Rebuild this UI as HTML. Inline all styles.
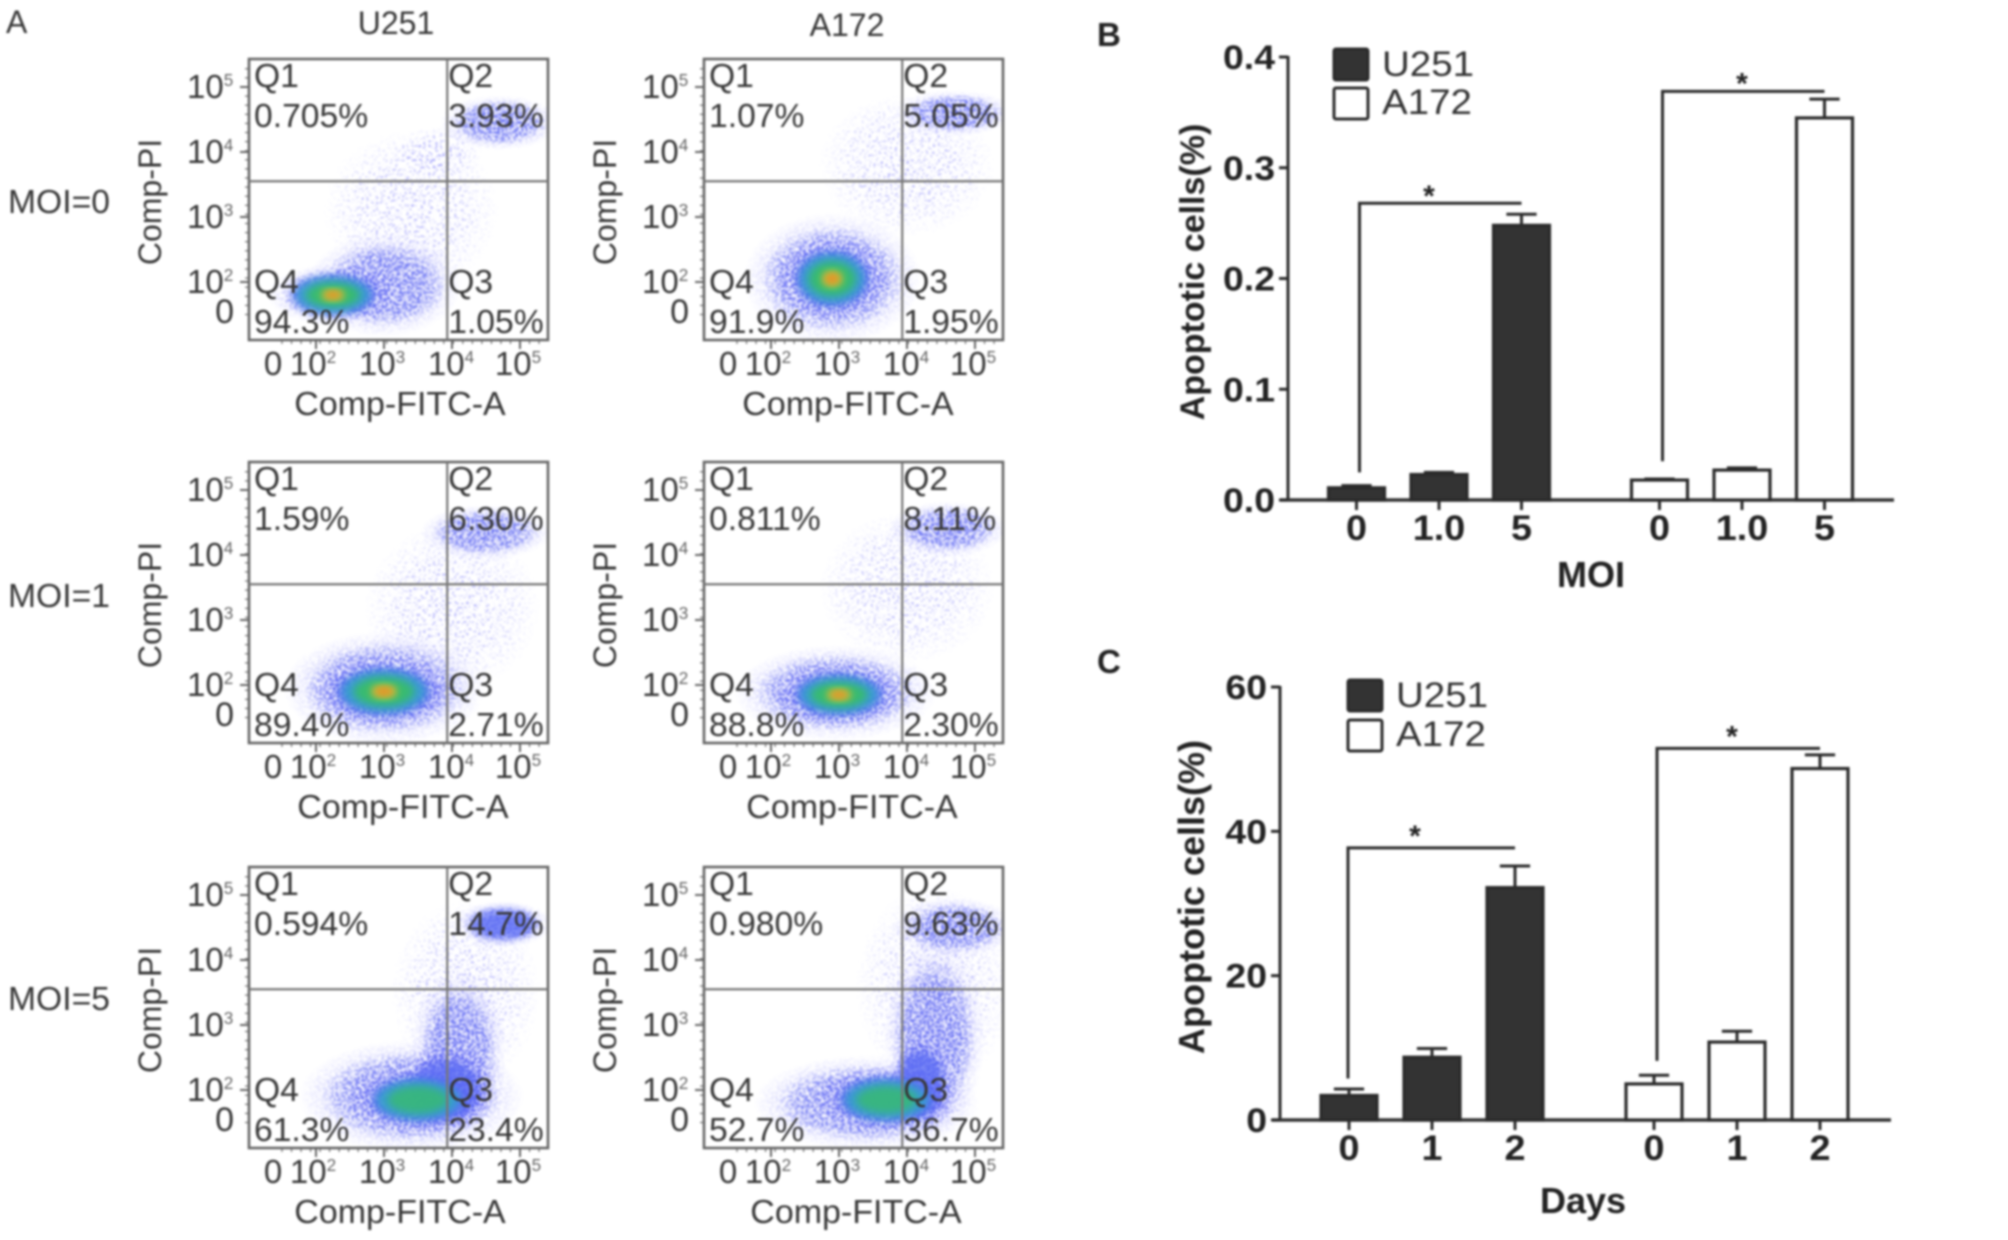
<!DOCTYPE html>
<html lang="en">
<head>
<meta charset="utf-8">
<title>Apoptosis flow cytometry and bar charts</title>
<style>
html,body{margin:0;padding:0;background:#fff;}
svg{display:block;filter:blur(1px);font-family:"Liberation Sans",sans-serif;}
</style>
</head>
<body>
<svg id="figure" xmlns="http://www.w3.org/2000/svg" width="2008" height="1240" viewBox="0 0 2008 1240">
<defs>
<radialGradient id="cloudFade">
<stop offset="0" stop-color="#6a6af8" stop-opacity="1"/>
<stop offset="0.55" stop-color="#6a6af8" stop-opacity="0.75"/>
<stop offset="1" stop-color="#6a6af8" stop-opacity="0"/>
</radialGradient>
<radialGradient id="coreFade">
<stop offset="0" stop-color="#4a58ee" stop-opacity="1"/>
<stop offset="0.7" stop-color="#4a58ee" stop-opacity="0.9"/>
<stop offset="1" stop-color="#4a58ee" stop-opacity="0"/>
</radialGradient>
<filter id="speckle" x="-10%" y="-10%" width="120%" height="120%">
<feTurbulence type="fractalNoise" baseFrequency="0.5" numOctaves="2" seed="7" result="noise"/>
<feColorMatrix in="noise" type="matrix" values="0 0 0 0 0  0 0 0 0 0  0 0 0 0 0  0 0 0 12 -6.1" result="mask"/>
<feComposite in="SourceGraphic" in2="mask" operator="in" result="dots"/>
<feGaussianBlur in="dots" stdDeviation="0.7"/>
</filter>
<filter id="speckleSparse" x="-10%" y="-10%" width="120%" height="120%">
<feTurbulence type="fractalNoise" baseFrequency="0.42" numOctaves="2" seed="19" result="noise"/>
<feColorMatrix in="noise" type="matrix" values="0 0 0 0 0  0 0 0 0 0  0 0 0 0 0  0 0 0 16 -9.6" result="mask"/>
<feComposite in="SourceGraphic" in2="mask" operator="in" result="dots"/>
<feGaussianBlur in="dots" stdDeviation="0.6"/>
</filter>
<filter id="soften" x="-30%" y="-30%" width="160%" height="160%">
<feGaussianBlur stdDeviation="4"/>
</filter>
</defs>
<rect width="2008" height="1240" fill="#fff"/>
</svg>
<script>
/* ---------- Panel A: flow cytometry data ---------- */
var flowCells = ['U251', 'A172', 'U251', 'A172', 'U251', 'A172'];
var flowMoi = [0, 0, 1, 1, 5, 5];
var q1Pct = ['0.705%', '1.07%', '1.59%', '0.811%', '0.594%', '0.980%'];
var q2Pct = ['3.93%', '5.05%', '6.30%', '8.11%', '14.7%', '9.63%'];
var q3Pct = ['1.05%', '1.95%', '2.71%', '2.30%', '23.4%', '36.7%'];
var q4Pct = ['94.3%', '91.9%', '89.4%', '88.8%', '61.3%', '52.7%'];
var flowTickDecades = [2, 3, 4, 5];
var flowGateDecades = [3.93, 3.55];
/* populations: log10 FITC, log10 PI, spread FITC, spread PI, density level 1-6 */
var blobsU251Moi0 = [[3.4,3.1,1.0,0.95,1],[3.8,4.0,0.5,0.3,1],[3.0,1.95,0.65,0.45,2],[4.7,4.45,0.5,0.24,2],[2.25,1.8,0.55,0.27,6]];
var blobsA172Moi0 = [[4.0,3.8,1.0,0.85,1],[2.9,2.05,0.75,0.58,2],[4.7,4.6,0.5,0.2,2],[2.9,2.05,0.48,0.38,6]];
var blobsU251Moi1 = [[4.0,3.2,1.0,1.0,1],[3.0,1.95,0.85,0.5,2],[4.5,4.35,0.55,0.24,2],[3.0,1.9,0.62,0.32,6]];
var blobsA172Moi1 = [[4.0,3.5,1.0,0.9,1],[2.95,1.88,0.85,0.42,2],[4.6,4.4,0.5,0.24,2],[3.0,1.85,0.58,0.28,6]];
var blobsU251Moi5 = [[4.2,3.5,0.85,1.1,1],[3.4,1.9,0.95,0.5,2],[4.1,2.6,0.4,0.7,2],[4.75,4.55,0.42,0.2,3],[3.9,2.0,0.45,0.4,3],[3.5,1.85,0.62,0.3,5]];
var blobsA172Moi5 = [[4.4,3.6,0.9,1.2,1],[3.4,1.8,0.95,0.42,2],[4.4,2.8,0.42,0.85,2],[4.7,4.5,0.52,0.26,2],[4.2,2.1,0.3,0.45,3],[3.7,1.85,0.62,0.3,5]];
var flowBlobs = [blobsU251Moi0, blobsA172Moi0, blobsU251Moi1, blobsA172Moi1, blobsU251Moi5, blobsA172Moi5];

/* ---------- Panel B data ---------- */
var bCategories = ['0', '1.0', '5'];
var bU251Values = [0.011, 0.023, 0.248];
var bU251ErrorTops = [0.013, 0.025, 0.258];
var bA172Values = [0.018, 0.027, 0.345];
var bA172ErrorTops = [0.019, 0.029, 0.362];
var bTicks = [0, 0.1, 0.2, 0.3, 0.4];
var bTickLabels = ['0.0', '0.1', '0.2', '0.3', '0.4'];
var bBracketTops = [0.268, 0.369];
var bBracketFeet = [0.025, 0.035];

/* ---------- Panel C data ---------- */
var cCategories = ['0', '1', '2'];
var cU251Values = [3.4, 8.7, 32.2];
var cU251ErrorTops = [4.3, 9.9, 35.2];
var cA172Values = [5.0, 10.8, 48.7];
var cA172ErrorTops = [6.2, 12.3, 50.6];
var cTicks = [0, 20, 40, 60];
var cTickLabels = ['0', '20', '40', '60'];
var cBracketTops = [37.7, 51.5];
var cBracketFeet = [5.75, 8.2];

var svg = document.getElementById('figure');
var NS = 'http://www.w3.org/2000/svg';

function make(tag, parent, attrs, name) {
  var el = document.createElementNS(NS, tag);
  for (var k in attrs) { el.setAttribute(k, attrs[k]); }
  
  
  parent.appendChild(el);
  return el;
}
function label(parent, name, str, x, y, size, opt) {
  opt = opt || {};
  var sx = opt.sx || 1;
  var tr = 'translate(' + x + ' ' + y + ')' + (opt.rot ? ' rotate(' + opt.rot + ')' : '') + ' scale(' + sx + ' 1)';
  var el = make('text', parent, {
    transform: tr,
    'font-size': size,
    'font-weight': opt.bold ? 'bold' : 'normal',
    'text-anchor': opt.anchor || 'start',
    fill: opt.fill || '#383838'
  }, name);
  el.textContent = str;
  return el;
}
function power(parent, name, exp, x, y, size, anchor) {
  var el = label(parent, name, '10', x, y, size, {sx: 1.0, anchor: anchor});
  var sup = document.createElementNS(NS, 'tspan');
  sup.setAttribute('font-size', size * 0.52);
  sup.setAttribute('dy', -size * 0.36);
  sup.setAttribute('fill', '#666');
  sup.textContent = String(exp);
  el.appendChild(sup);
  return el;
}

/* ---------- Density rendering ---------- */
var ringColors = ['#5f70f4', '#2fa6c8', '#38c060', '#e8d030', '#e87a20'];
var ringScale = [1.4, 1.02, 0.74, 0.44, 0.22];
function drawBlob(parent, blob, fx, fy) {
  var cx = fx(blob[0]), cy = fy(blob[1]);
  var rx = Math.abs(fx(blob[0] + blob[2]) - cx), ry = Math.abs(fy(blob[1] + blob[3]) - cy);
  var level = blob[4];
  var k = level > 1 ? 1.75 : 1.3;
  var pale = make('ellipse', parent, {cx: cx, cy: cy, rx: rx * k, ry: ry * k, fill: 'url(#cloudFade)', filter: level > 1 ? 'url(#speckle)' : 'url(#speckleSparse)', opacity: level > 1 ? 0.8 : 0.6}, 'event-cloud');
  if (level < 2) { return pale; }
  make('ellipse', parent, {cx: cx, cy: cy, rx: rx * ringScale[0], ry: ry * ringScale[0], fill: 'url(#coreFade)', filter: 'url(#speckle)', opacity: 0.9}, 'density-grain');
  if (level >= 3) {
    make('ellipse', parent, {cx: cx, cy: cy, rx: rx * 1.1, ry: ry * 1.1, fill: ringColors[0], opacity: 0.8, filter: 'url(#soften)'}, 'density-contour-blue');
  }
  if (level >= 4) {
    make('ellipse', parent, {cx: cx, cy: cy, rx: rx * 1.0, ry: ry * 1.0, fill: ringColors[1], opacity: level === 4 ? 0.6 : 0.8, filter: 'url(#soften)'}, 'density-contour-cyan');
  }
  if (level >= 5) {
    make('ellipse', parent, {cx: cx, cy: cy, rx: rx * 0.72, ry: ry * 0.7, fill: ringColors[2], opacity: level === 5 ? 0.7 : 0.85, filter: 'url(#soften)'}, 'density-contour-green');
  }
  if (level >= 6) {
    make('ellipse', parent, {cx: cx, cy: cy, rx: rx * 0.3, ry: ry * 0.32, fill: ringColors[3], opacity: 0.9, filter: 'url(#soften)'}, 'density-contour-yellow');
    make('ellipse', parent, {cx: cx, cy: cy, rx: rx * 0.24, ry: ry * 0.22, fill: ringColors[4], opacity: 0.8, filter: 'url(#soften)'}, 'density-contour-orange');
  }
  return pale;
}

/* ---------- Panel A drawing ---------- */
var boxLefts = [249, 704];
var boxTops = [59, 462, 867];
var BOX_W = 299, BOX_H = 281;
var xLabelOffset = [0, -7, 3, -3, 0, 1];

flowCells.forEach(function (cell, p) {
  var col = p % 2, row = Math.floor(p / 2);
  var L = boxLefts[col], T = boxTops[row], R = L + BOX_W, B = T + BOX_H;
  var fx = function (d) { return L + 135 + (d - 3) * 68; };
  var fy = function (d) { return T + 158 - (d - 3) * 65; };
  var g = make('g', svg, {}, 'flow-plot-' + cell.toLowerCase() + '-moi-' + flowMoi[p]);

  var clip = make('clipPath', g, {id: 'clip' + p}, 'plot-clip');
  make('rect', clip, {x: L, y: T, width: BOX_W, height: BOX_H}, 'plot-clip-area');
  var dots = make('g', g, {'clip-path': 'url(#clip' + p + ')'}, 'density-scatter');
  flowBlobs[p].forEach(function (b) { drawBlob(dots, b, fx, fy); });

  /* minor ticks */
  for (var m = 1.5; m < 5.4; m += 0.14) {
    make('line', g, {x1: L - 4, x2: L, y1: fy(m), y2: fy(m), stroke: '#888', 'stroke-width': 1.5}, 'y-minor-tick');
    make('line', g, {x1: fx(m), x2: fx(m), y1: B, y2: B + 4, stroke: '#888', 'stroke-width': 1.5}, 'x-minor-tick');
  }
  var xLabelShift = {2: -3, 3: -2, 4: -1, 5: -2};
  flowTickDecades.forEach(function (d) {
    make('line', g, {x1: L - 9, x2: L, y1: fy(d), y2: fy(d), stroke: '#666', 'stroke-width': 2}, 'y-major-tick');
    make('line', g, {x1: fx(d), x2: fx(d), y1: B, y2: B + 9, stroke: '#666', 'stroke-width': 2}, 'x-major-tick');
    power(g, 'y-tick-label', d, L - 62, fy(d) + 11, 33);
    power(g, 'x-tick-label', d, fx(d) + xLabelShift[d], B + 35, 33, 'middle');
  });
  label(g, 'y-tick-label-zero', '0', L - 15, T + 264, 34, {anchor: 'end'});
  label(g, 'x-tick-label-zero', '0', L + 24, B + 35, 33, {anchor: 'middle'});

  make('rect', g, {x: L, y: T, width: BOX_W, height: BOX_H, fill: 'none', stroke: '#666', 'stroke-width': 2.6}, 'plot-frame');
  var gx = fx(flowGateDecades[0]), gy = fy(flowGateDecades[1]);
  make('line', g, {x1: gx, x2: gx, y1: T, y2: B, stroke: '#777', 'stroke-width': 2.2}, 'vertical-gate');
  make('line', g, {x1: L, x2: R, y1: gy, y2: gy, stroke: '#777', 'stroke-width': 2.2}, 'horizontal-gate');

  var qOpt = {sx: 1.02};
  label(g, 'q1-label', 'Q1', L + 5, T + 28, 33, qOpt);
  label(g, 'q1-percent', q1Pct[p], L + 5, T + 68, 33, qOpt);
  label(g, 'q2-label', 'Q2', gx + 1, T + 28, 33, qOpt);
  label(g, 'q2-percent', q2Pct[p], gx + 1, T + 68, 33, qOpt);
  label(g, 'q4-label', 'Q4', L + 5, B - 47, 33, qOpt);
  label(g, 'q4-percent', q4Pct[p], L + 5, B - 7, 33, qOpt);
  label(g, 'q3-label', 'Q3', gx + 1, B - 47, 33, qOpt);
  label(g, 'q3-percent', q3Pct[p], gx + 1, B - 7, 33, qOpt);

  label(g, 'x-axis-title', 'Comp-FITC-A', L + 151 + xLabelOffset[p], B + 75, 33, {anchor: 'middle', sx: 1.03});
  label(g, 'y-axis-title', 'Comp-PI', L - 88, T + 143, 32, {anchor: 'middle', rot: -90});
});

label(svg, 'panel-a-label', 'A', 6, 33, 32);
label(svg, 'column-title-u251', 'U251', 396, 34, 32, {anchor: 'middle', sx: 1.0});
label(svg, 'column-title-a172', 'A172', 847, 36, 32, {anchor: 'middle', sx: 1.0});
label(svg, 'row-title-moi-0', 'MOI=0', 8, 213, 33, {sx: 1.02});
label(svg, 'row-title-moi-1', 'MOI=1', 8, 607, 33, {sx: 1.02});
label(svg, 'row-title-moi-5', 'MOI=5', 8, 1010, 33, {sx: 1.02});

/* ---------- Bar charts ---------- */
function drawBarChart(cfg) {
  var g = make('g', svg, {}, cfg.name);
  var ink = '#2b2b2b';
  var y = function (v) { return cfg.y0 - v / cfg.yMax * (cfg.y0 - cfg.yTop); };
  var x = function (group, i) { return cfg.x0 + group * cfg.groupGap + i * cfg.step; };

  make('line', g, {x1: cfg.axisX, x2: cfg.axisX, y1: y(cfg.yMax) - 1, y2: cfg.y0, stroke: ink, 'stroke-width': 3}, 'y-axis-line');
  make('line', g, {x1: cfg.axisX - 8, x2: cfg.axisEnd, y1: cfg.y0, y2: cfg.y0, stroke: '#333', 'stroke-width': 3.4}, 'x-axis-line');

  cfg.ticks.forEach(function (t, i) {
    make('line', g, {x1: cfg.axisX - 9, x2: cfg.axisX, y1: y(t), y2: y(t), stroke: ink, 'stroke-width': 3}, 'y-tick');
    label(g, 'y-tick-label', cfg.tickLabels[i], cfg.axisX - 13, y(t) + 12, 34, {anchor: 'end', bold: true, fill: '#222', sx: 1.1});
  });

  [cfg.u251, cfg.a172].forEach(function (series, s) {
    series.values.forEach(function (v, i) {
      var cx = x(s, i), w = cfg.barWidth;
      make('line', g, {x1: cx, x2: cx, y1: y(series.tops[i]), y2: y(v), stroke: ink, 'stroke-width': 3}, 'error-bar-stem');
      make('line', g, {x1: cx - w * 0.27, x2: cx + w * 0.27, y1: y(series.tops[i]), y2: y(series.tops[i]), stroke: ink, 'stroke-width': 3}, 'error-bar-cap');
      make('rect', g, {
        x: cx - w / 2, y: y(v), width: w, height: cfg.y0 - y(v),
        fill: s === 0 ? '#333' : '#fff', stroke: ink, 'stroke-width': 3.2
      }, 'bar-' + series.name + '-' + cfg.categories[i]);
      make('line', g, {x1: cx, x2: cx, y1: cfg.y0, y2: cfg.y0 + 10, stroke: ink, 'stroke-width': 3}, 'x-tick');
      label(g, 'x-tick-label', cfg.categories[i], cx, cfg.y0 + 40, 35, {anchor: 'middle', bold: true, fill: '#222', sx: 1.08});
    });
  });

  cfg.bracketTops.forEach(function (v, s) {
    var x1 = x(s, 0) + cfg.bracketDx[s], x2 = x(s, 2);
    make('path', g, {d: 'M' + x1 + ' ' + y(cfg.bracketFeet[s]) + 'V' + y(v) + 'H' + x2, fill: 'none', stroke: ink, 'stroke-width': 3}, 'significance-bracket');
    label(g, 'significance-star', '*', x(s, 1) + cfg.starDx[s], y(v) + cfg.starDy[s], 30, {anchor: 'middle', bold: true, fill: '#222'});
  });

  label(g, 'x-axis-title', cfg.xTitle, cfg.xTitleX, cfg.xTitleY, 36, {anchor: 'middle', bold: true, fill: '#222'});
  label(g, 'y-axis-title', 'Apoptotic cells(%)', cfg.yTitleX, cfg.yTitleY, cfg.yTitleSize, {anchor: 'middle', bold: true, rot: -90, fill: '#222'});

  make('rect', g, {x: cfg.legendX, y: cfg.legendY[0], width: 34, height: 31, rx: 2, fill: '#333', stroke: ink, 'stroke-width': 3}, 'legend-swatch-u251');
  make('rect', g, {x: cfg.legendX, y: cfg.legendY[1], width: 34, height: 31, rx: 2, fill: '#fff', stroke: ink, 'stroke-width': 3}, 'legend-swatch-a172');
  label(g, 'legend-label-u251', 'U251', cfg.legendX + 48, cfg.legendY[0] + 27, 35, {sx: 1.1, fill: '#333'});
  label(g, 'legend-label-a172', 'A172', cfg.legendX + 48, cfg.legendY[1] + 26, 35, {sx: 1.1, fill: '#333'});
  label(g, 'panel-label', cfg.panel, cfg.panelX, cfg.panelY, 33, {bold: true, fill: '#222'});
}

drawBarChart({
  name: 'bar-chart-moi', panel: 'B', panelX: 1097, panelY: 46,
  y0: 500, yTop: 57, yMax: 0.4, axisX: 1288, axisEnd: 1894,
  x0: 1356.5, step: 82.5, groupGap: 303, barWidth: 56,
  categories: bCategories, ticks: bTicks, tickLabels: bTickLabels,
  u251: {name: 'u251', values: bU251Values, tops: bU251ErrorTops},
  a172: {name: 'a172', values: bA172Values, tops: bA172ErrorTops},
  bracketTops: bBracketTops, bracketFeet: bBracketFeet, bracketDx: [3, 3],
  starDx: [-10, 0], starDy: [3, 2],
  xTitle: 'MOI', xTitleX: 1591, xTitleY: 587,
  yTitleX: 1204, yTitleY: 272, yTitleSize: 34,
  legendX: 1334, legendY: [49, 88]
});
drawBarChart({
  name: 'bar-chart-days', panel: 'C', panelX: 1097, panelY: 673,
  y0: 1120, yTop: 687, yMax: 60, axisX: 1280, axisEnd: 1891,
  x0: 1349, step: 83, groupGap: 305, barWidth: 56,
  categories: cCategories, ticks: cTicks, tickLabels: cTickLabels,
  u251: {name: 'u251', values: cU251Values, tops: cU251ErrorTops},
  a172: {name: 'a172', values: cA172Values, tops: cA172ErrorTops},
  bracketTops: cBracketTops, bracketFeet: cBracketFeet, bracketDx: [-1, 3],
  starDx: [-17, -5], starDy: [-2, -2],
  xTitle: 'Days', xTitleX: 1583, xTitleY: 1213,
  yTitleX: 1204, yTitleY: 897, yTitleSize: 36,
  legendX: 1348, legendY: [680, 720]
});
</script>
</body>
</html>
